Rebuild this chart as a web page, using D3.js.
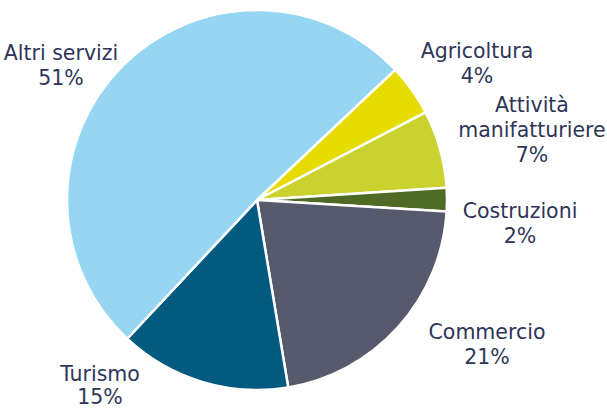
<!DOCTYPE html>
<html>
<head>
<meta charset="utf-8">
<script src="https://cdn.jsdelivr.net/npm/d3@7"></script>
<style>
  body { margin: 0; background: #fff; }
  text { font-family: "DejaVu Sans", sans-serif; font-size: 20.5px; fill: #2e3558; }
</style>
</head>
<body>
<script>

// data
var categories = ['Agricoltura', 'Attività manifatturiere', 'Costruzioni', 'Commercio', 'Turismo', 'Altri servizi'];
var values = [4.4, 6.6, 2.0, 21.4, 14.6, 51.0];

// label lines (category may wrap)
var labelLines = [['Agricoltura'], ['Attività', 'manifatturiere'], ['Costruzioni'], ['Commercio'], ['Turismo'], ['Altri servizi']];

var colors = ['#e6dc00', '#c9d22e', '#4f6a25', '#575a6d', '#025a80', '#96d6f2'];

// label anchor (center x, first baseline) -- layout only
var labelPos = [[477, 58], [532, 112], [520, 218], [487, 339], [100, 381], [61, 60]];

var width = 607, height = 411;
var cx = 257, cy = 200, radius = 190;

var svg = d3.select('body').append('svg')
    .attr('width', width)
    .attr('height', height);

var startA = 46.7 * Math.PI / 180;

var pie = d3.pie()
    .sort(null)
    .value(function(d){ return d; })
    .startAngle(startA)
    .endAngle(startA + 2 * Math.PI);

var arc = d3.arc()
    .innerRadius(0)
    .outerRadius(radius);

var arcs = pie(values);

var g = svg.append('g')
    .attr('transform', 'translate(' + cx + ',' + cy + ')');

g.selectAll('path')
    .data(arcs)
    .enter().append('path')
    .attr('d', arc)
    .attr('fill', function(d, i){ return colors[i]; })
    .attr('stroke', '#fff')
    .attr('stroke-width', 2.5)
    .attr('stroke-linejoin', 'round');

var lineH = 25;

var labels = svg.selectAll('text.lbl')
    .data(arcs)
    .enter().append('text')
    .attr('class', 'lbl')
    .attr('text-anchor', 'middle')
    .attr('x', function(d, i){ return labelPos[i][0]; })
    .attr('y', function(d, i){ return labelPos[i][1]; });

labels.each(function(d, i){
    var t = d3.select(this);
    var lines = labelLines[i].concat([Math.round(values[i]) + '%']);
    lines.forEach(function(l, j){
        t.append('tspan')
            .attr('x', labelPos[i][0])
            .attr('dy', j == 0 ? 0 : (i == 4 ? 23 : lineH))
            .text(l);
    });
});

</script>
</body>
</html>
